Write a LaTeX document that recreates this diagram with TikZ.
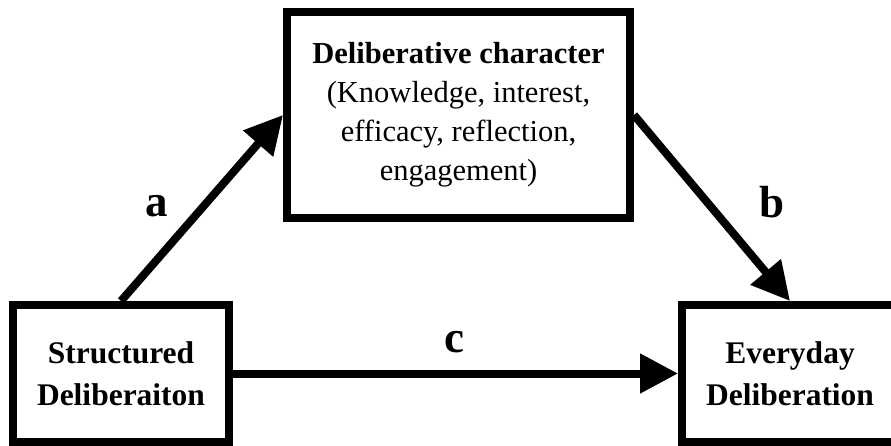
\documentclass[tikz,border=0pt]{standalone}
\usepackage{fontspec}
\setmainfont{Liberation Serif}
\usetikzlibrary{arrows.meta}
\tikzset{
  box/.style={draw=black, line width=8pt, rectangle, fill=white, align=center, inner sep=0pt},
  topbox/.style={box, minimum width=343pt, minimum height=206pt, font=\fontsize{30.5}{39}\selectfont},
  botbox/.style={box, minimum width=216pt, minimum height=137pt, font=\fontsize{31.5}{42}\selectfont\bfseries},
  conn/.style={line width=8pt, -{Triangle[length=38pt,width=38pt]}},
  lab/.style={anchor=base, inner sep=0pt, font=\fontsize{45}{50}\selectfont\bfseries}
}
\begin{document}
\begin{tikzpicture}[x=1pt, y=-1pt]
\useasboundingbox (0,0) rectangle (891,446);
\node[topbox] (T) at (458.5,115) {\textbf{Deliberative character}\\(Knowledge, interest,\\efficacy, reflection,\\engagement)};
\node[botbox] (L) at (121,373.5) {Structured\\Deliberaiton};
\node[botbox] (R) at (790,373.5) {Everyday\\Deliberation};
\draw[conn] (L.north) -- (T.west);
\draw[conn] (T.east) -- (R.north);
\draw[conn] (L.east) -- (R.west);
\node[lab] (la) at (157,217) {a};
\node[lab] (lb) at (772,218) {b};
\node[lab] (lc) at (454,352) {c};
\end{tikzpicture}
\end{document}
